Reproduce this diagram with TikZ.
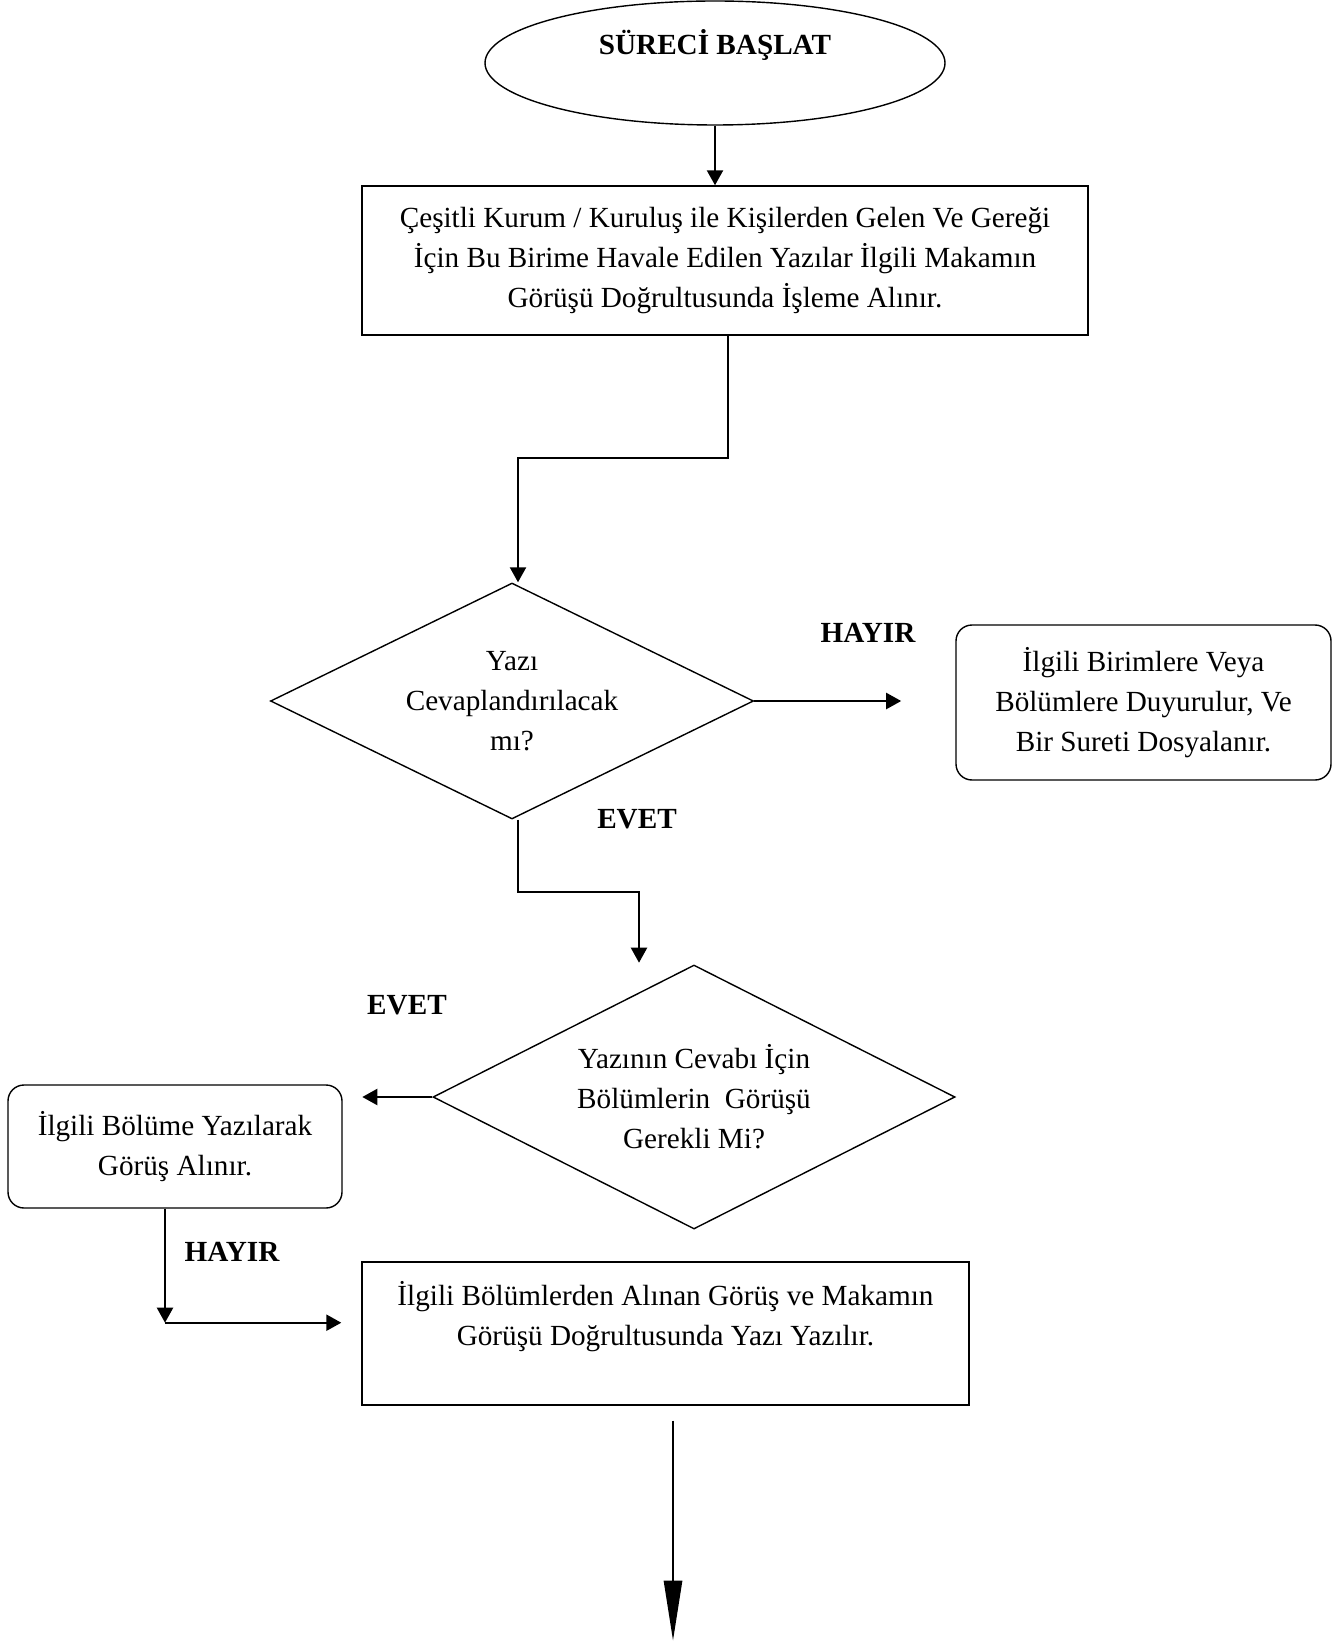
\documentclass[tikz,border=0pt]{standalone}
\usepackage{fontspec}
\setmainfont{Liberation Serif}
\usetikzlibrary{arrows.meta,positioning,calc,shapes.geometric}
\newcommand{\yazifont}{\fontsize{14.6}{20}\selectfont}

\begin{document}
\begin{tikzpicture}[x=0.5pt,y=-0.5pt,
    font=\yazifont,
    basla/.style={draw,ellipse,line width=0.7pt,minimum width=230pt,minimum height=62pt,inner sep=0pt,font=\yazifont\bfseries,text height=10pt,text depth=18pt},
    kutu/.style={draw,line width=0.7pt,align=center,inner sep=0pt},
    yuvarlak/.style={kutu,rounded corners=8pt},
    karar/.style={draw,diamond,aspect=2,line width=0.7pt,align=center,inner sep=0pt},
    etiket/.style={font=\yazifont\bfseries},
    ok/.style={-{Triangle[length=7.5pt,width=8pt]},line width=1.1pt},
    buyukok/.style={-{Triangle[length=30pt,width=9pt]},line width=1.4pt}
  ]
    \useasboundingbox (0,0) rectangle (1334,1641);
    \node[basla] (start) at (715,63) {SÜRECİ BAŞLAT};
    \node[kutu,minimum width=363pt,minimum height=74.5pt] (yazilar) at (725,260.5) {Çeşitli Kurum / Kuruluş ile Kişilerden Gelen Ve Gereği\\İçin Bu Birime Havale Edilen Yazılar İlgili Makamın\\Görüşü Doğrultusunda İşleme Alınır.};
    \node[karar,minimum width=241.5pt,minimum height=118pt] (soru1) at (512,701) {Yazı\\Cevaplandırılacak\\mı?};
    \node[yuvarlak,minimum width=187.5pt,minimum height=77.5pt] (duyuru) at (1143.5,702.5) {İlgili Birimlere Veya\\Bölümlere Duyurulur, Ve\\Bir Sureti Dosyalanır.};
    \node[karar,minimum width=261pt,minimum height=132pt] (soru2) at (694,1097) {Yazının Cevabı İçin\\Bölümlerin~ Görüşü\\Gerekli Mi?};
    \node[yuvarlak,minimum width=167pt,minimum height=61.5pt] (gorus) at (175,1146.5) {İlgili Bölüme Yazılarak\\Görüş Alınır.};
    \node[kutu,minimum width=303.5pt,minimum height=71.5pt] (yazi) at (665.5,1333.5) {İlgili Bölümlerden Alınan Görüş ve Makamın\\Görüşü Doğrultusunda Yazı Yazılır.\\\mbox{}};
    % etiketler
    \node[etiket] (hayir1) at (868,633) {HAYIR};
    \node[etiket] (evet1) at (637,819) {EVET};
    \node[etiket] (evet2) at (407,1005) {EVET};
    \node[etiket] (hayir2) at (232,1252) {HAYIR};
    % oklar
    \draw[ok] (start.south) -- (start.south |- yazilar.north);
    \draw[ok] ([xshift=1.5pt]yazilar.south) -- ++(0,122) -| ([xshift=3pt]soru1.north);
    \draw[ok] (soru1.east) -- ++(147,0);
    \draw[ok] ([xshift=3pt]soru1.south) |- ++(121,72) -- ++(0,71);
    \draw[ok] (soru2.west) -- ++(-70,0);
    \draw[ok] ([xshift=-5pt]gorus.south) -- ++(0,114) coordinate (kose);
    \draw[ok] (kose) -- ([xshift=-10pt]yazi.west |- kose);
    \draw[buyukok] ([xshift=3.75pt,yshift=-7.5pt]yazi.south) -- ++(0,220);
\end{tikzpicture}
\end{document}
